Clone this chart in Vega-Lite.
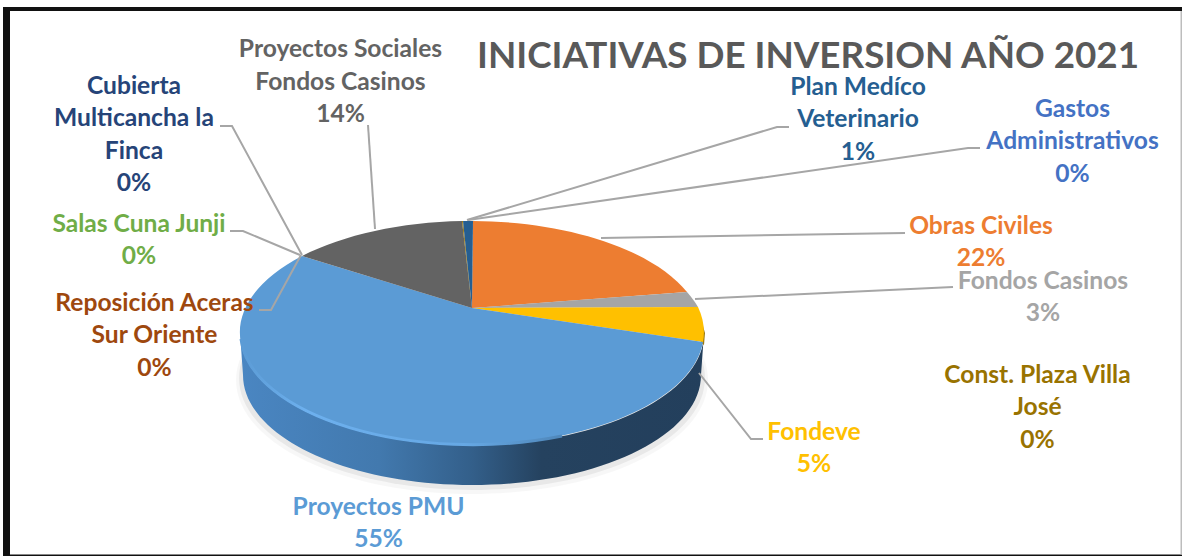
{
"$schema":"https://vega.github.io/schema/vega-lite/v6.json",
"width":1182,"height":556,"autosize":{"type":"fit","contains":"padding"},"padding":0,
"background":"#ffffff",
"view":{"stroke":null},
"config":{"view":{"stroke":null}},
"datasets":{
"slices":[
{"name":"Obras Civiles","value":22},
{"name":"Fondos Casinos","value":3},
{"name":"Fondeve","value":5},
{"name":"Proyectos PMU","value":55},
{"name":"Proyectos Sociales Fondos Casinos","value":14},
{"name":"Const. Plaza Villa José","value":0.2},
{"name":"Plan Medíco Veterinario","value":1}
],
"labels":[
{"text":"Proyectos Sociales\nFondos Casinos\n14%","c":"Proyectos Sociales Fondos Casinos","lx":340.5,"ly":50},
{"text":"Cubierta\nMulticancha la\nFinca\n0%","c":"Cubierta Multicancha la Finca","lx":134,"ly":86.5},
{"text":"Plan Medíco\nVeterinario\n1%","c":"Plan Medíco Veterinario","lx":858,"ly":87.5},
{"text":"Gastos\nAdministrativos\n0%","c":"Gastos Administrativos","lx":1072.5,"ly":109.5},
{"text":"Obras Civiles\n22%","c":"Obras Civiles","lx":981,"ly":226.5},
{"text":"Fondos Casinos\n3%","c":"Fondos Casinos","lx":1043,"ly":281.5},
{"text":"Const. Plaza Villa\nJosé\n0%","c":"Const. Plaza Villa José","lx":1037.5,"ly":375.5},
{"text":"Fondeve\n5%","c":"Fondeve","lx":814,"ly":432.5},
{"text":"Proyectos PMU\n55%","c":"Proyectos PMU","lx":378.5,"ly":507.5},
{"text":"Reposición Aceras\nSur Oriente\n0%","c":"Reposición Aceras Sur Oriente","lx":154.5,"ly":303.5},
{"text":"Salas Cuna Junji\n0%","c":"Salas Cuna Junji","lx":139,"ly":224.5}
],
"leaders":[
{"s":"Cubierta","o":1,"a":220,"b":126},{"s":"Cubierta","o":2,"a":232,"b":126},{"s":"Cubierta","o":3,"a":302,"b":255},
{"s":"Salas","o":1,"a":230,"b":231},{"s":"Salas","o":2,"a":243,"b":231},{"s":"Salas","o":3,"a":300,"b":255},
{"s":"Reposicion","o":1,"a":259,"b":310},{"s":"Reposicion","o":2,"a":271,"b":310},{"s":"Reposicion","o":3,"a":301,"b":255},
{"s":"Sociales","o":1,"a":368,"b":125},{"s":"Sociales","o":2,"a":375,"b":229},
{"s":"Plan","o":1,"a":789,"b":127},{"s":"Plan","o":2,"a":777,"b":127},{"s":"Plan","o":3,"a":467,"b":220},
{"s":"Gastos","o":1,"a":980,"b":148},{"s":"Gastos","o":2,"a":968,"b":148},{"s":"Gastos","o":3,"a":468,"b":220},
{"s":"Obras","o":1,"a":905,"b":233},{"s":"Obras","o":2,"a":601,"b":238},
{"s":"Fondos","o":1,"a":953,"b":287},{"s":"Fondos","o":2,"a":695,"b":299},
{"s":"Fondeve","o":1,"a":763,"b":439},{"s":"Fondeve","o":2,"a":751,"b":439},{"s":"Fondeve","o":3,"a":699,"b":373}
]
},
"encoding":{
"x":{"type":"quantitative","scale":{"domain":[0,1182],"range":[0,1182],"nice":false,"zero":false},"axis":null},
"y":{"type":"quantitative","scale":{"domain":[0,556],"range":[0,556],"nice":false,"zero":false},"axis":null}
},
"layer":[
{"data":{"values":[{"part":"shadow outer"}]},"mark":{"type":"point","filled":true,"size":4,"shape":"M-236,72A236,114 0 1 0 236,72A236,114 0 1 0 -236,72Z","fill":"#000000","fillOpacity":0.03,"stroke":null},"encoding":{"x":{"datum":472},"y":{"datum":308}}},
{"data":{"values":[{"part":"shadow inner"}]},"mark":{"type":"point","filled":true,"size":4,"shape":"M-233,70A233,112 0 1 0 233,70A233,112 0 1 0 -233,70Z","fill":"#000000","fillOpacity":0.06,"stroke":null},"encoding":{"x":{"datum":472},"y":{"datum":308}}},
{"data":{"values":[{"part":"wall"}]},"mark":{"type":"point","filled":true,"size":4,"shape":"M-232,25A232,112 0 0 0 232,25L229,67A229,110 0 0 1 -229,67Z","stroke":null,"opacity":1,
"fill":{"gradient":"linear","x1":0,"y1":0,"x2":1,"y2":0,"stops":[{"offset":0,"color":"#4a86c2"},{"offset":0.3,"color":"#4279ae"},{"offset":0.5,"color":"#335f8a"},{"offset":0.65,"color":"#25425f"},{"offset":1,"color":"#233f5c"}]}},"encoding":{"x":{"datum":472},"y":{"datum":308}}},
{"data":{"values":[{"part":"yellow wall"}]},"mark":{"type":"point","filled":true,"size":4,"shape":"M228,8L233,25L232,37L229,35Z","fill":"#9a7a10","stroke":null,"opacity":1},"encoding":{"x":{"datum":472},"y":{"datum":308}}},
{"data":{"name":"slices"},"mark":{"type":"point","filled":true,"size":4,"opacity":1,"strokeWidth":0},
"encoding":{
"x":{"datum":472},"y":{"datum":308},
"shape":{"field":"name","type":"nominal","legend":null,"scale":{"domain":["Obras Civiles","Fondos Casinos","Fondeve","Proyectos PMU","Proyectos Sociales Fondos Casinos","Const. Plaza Villa José","Plan Medíco Veterinario"],"range":[
"M0,0L1,-87A232,112 0 0 1 215,-16Z",
"M0,0L215,-16A232,112 0 0 1 226,-1Z",
"M0,0L226,-1A232,112 0 0 1 231,34Z",
"M0,0L231,34A232,112 0 1 1 -170,-52Z",
"M0,0L-170,-52A232,112 0 0 1 -10,-87Z",
"M0,0L-10,-87L-9,-87Z",
"M0,0L-9,-87L1,-87Z"]}},
"color":{"field":"name","type":"nominal","legend":null,"scale":{"domain":["Proyectos Sociales Fondos Casinos","Cubierta Multicancha la Finca","Plan Medíco Veterinario","Gastos Administrativos","Obras Civiles","Fondos Casinos","Const. Plaza Villa José","Fondeve","Proyectos PMU","Reposición Aceras Sur Oriente","Salas Cuna Junji"],"range":["#636363","#264478","#255e91","#4472c4","#ed7d31","#a5a5a5","#997300","#ffc000","#5b9bd5","#9e480e","#70ad47"]}}
}},
{"data":{"values":[{"part":"rim highlight"}]},"mark":{"type":"point","filled":false,"size":4,"opacity":1,"fill":null,"strokeWidth":3,"shape":"M-231,31A232,112 0 0 0 90,128",
"stroke":{"gradient":"linear","x1":0,"y1":0,"x2":1,"y2":0,"stops":[{"offset":0,"color":"#5b9bd5"},{"offset":0.2,"color":"#6db0ee"},{"offset":0.7,"color":"#66a8e4"},{"offset":1,"color":"#4f87ba"}]}},"encoding":{"x":{"datum":472},"y":{"datum":308}}},
{"data":{"name":"leaders"},"mark":{"type":"line","color":"#a6a6a6","strokeWidth":2,"interpolate":"linear"},
"encoding":{
"x":{"field":"a"},
"y":{"field":"b"},
"detail":{"field":"s"},
"order":{"field":"o"}
}},
{"data":{"name":"labels"},"mark":{"type":"text","font":"Lato","fontWeight":"bold","fontSize":24.6,"lineBreak":"\n","lineHeight":32.5,"align":"center","baseline":"middle"},
"encoding":{
"x":{"field":"lx"},
"y":{"field":"ly"},
"text":{"field":"text"},
"color":{"field":"c","type":"nominal","legend":null,"scale":{"domain":["Proyectos Sociales Fondos Casinos","Cubierta Multicancha la Finca","Plan Medíco Veterinario","Gastos Administrativos","Obras Civiles","Fondos Casinos","Const. Plaza Villa José","Fondeve","Proyectos PMU","Reposición Aceras Sur Oriente","Salas Cuna Junji"],"range":["#636363","#264478","#255e91","#4472c4","#ed7d31","#a5a5a5","#997300","#ffc000","#5b9bd5","#9e480e","#70ad47"]}}
}},
{"data":{"values":[{"title":"INICIATIVAS DE INVERSION AÑO 2021"}]},"mark":{"type":"text","font":"Lato","fontWeight":"bold","fontSize":36.8,"align":"center","baseline":"middle","color":"#595959"},
"encoding":{"x":{"datum":808},"y":{"datum":57},"text":{"field":"title"}}},
{"data":{"values":[{"edge":"top"}]},"mark":{"type":"rect","color":"#111111"},"encoding":{"x":{"datum":3},"x2":{"datum":1182},"y":{"datum":7},"y2":{"datum":11}}},
{"data":{"values":[{"edge":"left"}]},"mark":{"type":"rect","color":"#111111"},"encoding":{"x":{"datum":3},"x2":{"datum":10},"y":{"datum":7},"y2":{"datum":556}}},
{"data":{"values":[{"edge":"bottom"}]},"mark":{"type":"rect","color":"#111111"},"encoding":{"x":{"datum":3},"x2":{"datum":1182},"y":{"datum":554.5},"y2":{"datum":556}}},
{"data":{"values":[{"edge":"right"}]},"mark":{"type":"rect","color":"#bdbdbd"},"encoding":{"x":{"datum":1180.5},"x2":{"datum":1182},"y":{"datum":11},"y2":{"datum":554.5}}}
]
}
